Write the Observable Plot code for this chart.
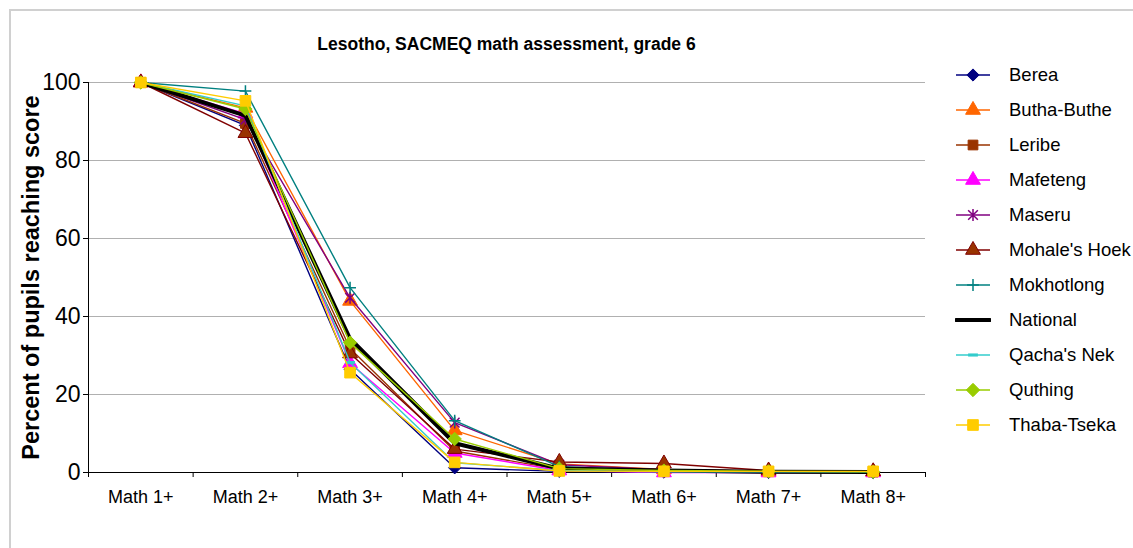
<!DOCTYPE html>
<html><head><meta charset="utf-8">
<script src="https://cdn.jsdelivr.net/npm/d3@7"></script>
<script src="https://cdn.jsdelivr.net/npm/@observablehq/plot@0.6"></script>
<style>
body{margin:0;width:1133px;height:548px;overflow:hidden;background:#fff;font-family:"Liberation Sans",Arial,sans-serif;position:relative}
#frame{position:absolute;left:9px;top:9px;width:1200px;height:600px;border:2px solid #d0d0d0;box-sizing:border-box}
#chart{position:absolute;left:0;top:0}
#title{position:absolute;left:88px;width:837px;top:34px;text-align:center;font-weight:bold;font-size:17.5px;line-height:20px;color:#000}
#legend{position:absolute;left:955px;top:0;width:178px;height:548px}
.row{position:absolute;left:0;height:24px;display:flex;align-items:center;white-space:nowrap;font-size:18.5px;color:#000}
.row svg{margin-right:18px}
</style></head><body>
<div id="frame"></div>
<div id="chart"></div>
<div id="title">Lesotho, SACMEQ math assessment, grade 6</div>
<div id="legend"></div>
<script>
const categories = ["Math 1+","Math 2+","Math 3+","Math 4+","Math 5+","Math 6+","Math 7+","Math 8+"];
const seriesNames = ["Berea","Butha-Buthe","Leribe","Mafeteng","Maseru","Mohale's Hoek","Mokhotlong","National","Qacha's Nek","Quthing","Thaba-Tseka"];
const berea       = [100, 89.0, 26.5, 1.2, 0.3, 0.1, 0.0, 0.0];
const buthaButhe  = [100, 93.5, 44.0, 10.8, 2.2, 0.8, 0.3, 0.2];
const leribe      = [100, 89.5, 31.8, 5.5, 0.8, 0.5, 0.2, 0.1];
const mafeteng    = [100, 92.0, 28.0, 5.0, 0.5, 0.0, 0.0, 0.0];
const maseru      = [100, 90.5, 44.8, 12.8, 2.0, 0.7, 0.3, 0.2];
const mohalesHoek = [100, 87.0, 30.5, 6.0, 2.7, 2.3, 0.5, 0.3];
const mokhotlong  = [100, 97.8, 47.4, 13.3, 1.5, 0.5, 0.2, 0.0];
const national    = [100, 91.5, 34.3, 7.5, 1.0, 0.5, 0.2, 0.1];
const qachasNek   = [100, 94.0, 28.2, 2.5, 0.5, 0.2, 0.2, 0.2];
const quthing     = [100, 93.2, 33.3, 8.6, 1.0, 0.5, 0.3, 0.2];
const thabaTseka  = [100, 95.3, 25.6, 2.6, 0.4, 0.3, 0.3, 0.3];
const yTicks = [0, 20, 40, 60, 80, 100];

const seriesValues = [berea, buthaButhe, leribe, mafeteng, maseru, mohalesHoek, mokhotlong, national, qachasNek, quthing, thabaTseka];

// custom symbols
const dashSym = {draw(c, s){ const w = Math.sqrt(s)*1.0, h = w*0.32; c.rect(-w/2, -h/2, w, h); }};
const starSym = {draw(c, s){ const r = Math.sqrt(s)/2.2; c.moveTo(-r,-r); c.lineTo(r,r); c.moveTo(-r,r); c.lineTo(r,-r); c.moveTo(0,-r*1.25); c.lineTo(0,r*1.25); }};
const plusSym = {draw(c, s){ const r = Math.sqrt(s)/1.8; c.moveTo(-r,0); c.lineTo(r,0); c.moveTo(0,-r); c.lineTo(0,r); }};

const styles = [
  {line:"#000080", sym:d3.symbolDiamond2, fill:"#000080", stroke:"#000080", r:5.5},
  {line:"#FF6600", sym:d3.symbolTriangle, fill:"#FF6600", stroke:"#FF6600", r:5.5},
  {line:"#993300", sym:d3.symbolSquare,   fill:"#993300", stroke:"#993300", r:5.5},
  {line:"#FF00FF", sym:d3.symbolTriangle, fill:"#FF00FF", stroke:"#FF00FF", r:5.5},
  {line:"#800080", sym:starSym,           fill:"none",    stroke:"#800080", r:6, sw:1.5},
  {line:"#800000", sym:d3.symbolTriangle, fill:"#993300", stroke:"#800000", r:5.5},
  {line:"#008080", sym:plusSym,           fill:"none",    stroke:"#008080", r:6, sw:1.5},
  {line:"#000000", sym:null, width:4},
  {line:"#33CCCC", sym:dashSym,           fill:"#33CCCC", stroke:"none", r:5.5},
  {line:"#99CC00", sym:d3.symbolDiamond2, fill:"#99CC00", stroke:"#99CC00", r:6},
  {line:"#FFCC00", sym:d3.symbolSquare,   fill:"#FFCC00", stroke:"#FFCC00", r:6}
];

const rows = [];
seriesNames.forEach((name, si) => seriesValues[si].forEach((v, i) => rows.push({series:name, idx:i, value:v})));

const marks = [
  Plot.gridY(yTicks.filter(d => d > 0), {stroke:"#b0b0b0", strokeOpacity:1, strokeWidth:1}),
  Plot.ruleX([-0.5], {stroke:"#000", strokeWidth:1}),
  Plot.ruleY([0], {stroke:"#000", strokeWidth:1}),
  Plot.axisY({ticks:yTicks, tickSize:5, tickPadding:3, fontSize:23, label:null, stroke:"#000"}),
  Plot.axisX({ticks:d3.range(-0.5, 8, 1), tickSize:5, tickFormat:() => "", label:null}),
  Plot.axisX({ticks:d3.range(0, 8), tickSize:0, tickPadding:18, fontSize:18, tickFormat:i => categories[i], label:null}),
  Plot.text(["Percent of pupils reaching score"], {frameAnchor:"left", dx:-57, rotate:-90, textAnchor:"middle", fontWeight:"bold", fontSize:23.5, fill:"#000"})
];
seriesNames.forEach((name, si) => {
  const st = styles[si];
  const data = rows.filter(r => r.series === name);
  marks.push(Plot.line(data, {x:"idx", y:"value", stroke:st.line, strokeWidth:st.width || 1.4, curve:"linear"}));
  if (st.sym) marks.push(Plot.dot(data, {x:"idx", y:"value", symbol:st.sym, r:st.r, fill:st.fill, stroke:st.stroke, strokeWidth:st.sw || 1}));
});

const chart = Plot.plot({
  width: 940, height: 548,
  marginLeft: 88, marginRight: 15, marginTop: 82, marginBottom: 76,
  x: {type:"linear", domain:[-0.5, 7.5], axis:null},
  y: {domain:[0, 100], axis:null},
  style: {fontFamily:'"Liberation Sans", Arial, sans-serif', color:"#000", background:"transparent", overflow:"visible"},
  marks
});
document.getElementById("chart").appendChild(chart);

// legend
const legend = document.getElementById("legend");
seriesNames.forEach((name, si) => {
  const st = styles[si];
  const row = document.createElement("div");
  row.className = "row";
  row.style.top = (63 + si * 35) + "px";
  const svg = d3.create("svg").attr("width", 36).attr("height", 24);
  svg.append("line").attr("x1", 1).attr("x2", 35).attr("y1", 12).attr("y2", 12)
    .attr("stroke", st.line).attr("stroke-width", st.width || 1.4).attr("stroke-linecap", st.width ? "round" : "butt");
  if (st.sym) {
    svg.append("path").attr("transform", "translate(18,12)")
      .attr("d", d3.symbol(st.sym, Math.PI * st.r * st.r)())
      .attr("fill", st.fill).attr("stroke", st.stroke).attr("stroke-width", st.sw || 1);
  }
  row.appendChild(svg.node());
  const span = document.createElement("span");
  span.textContent = name;
  row.appendChild(span);
  legend.appendChild(row);
});
</script>
</body></html>
